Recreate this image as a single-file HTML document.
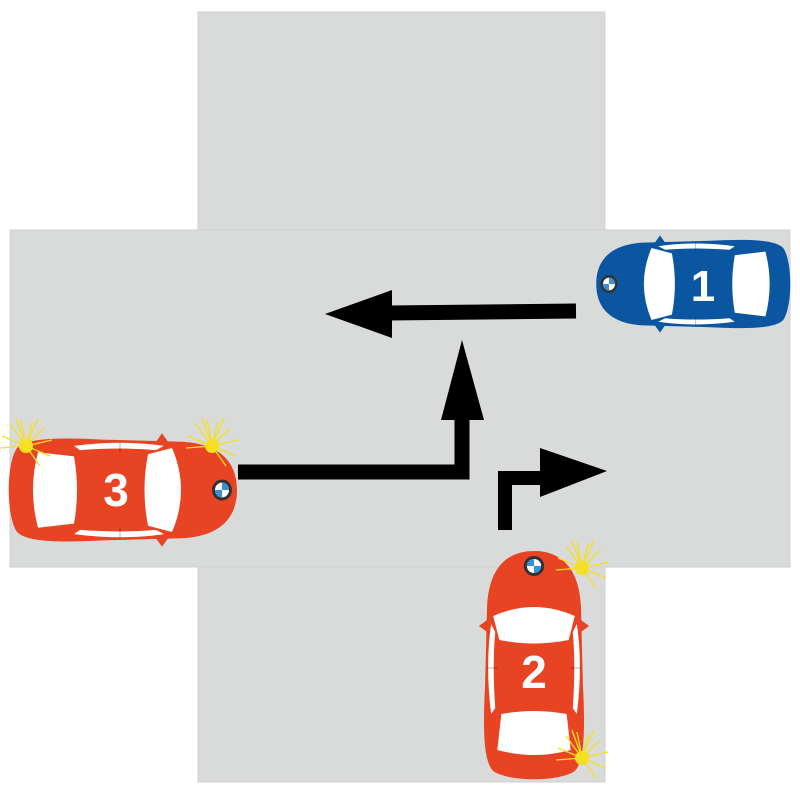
<!DOCTYPE html>
<html><head><meta charset="utf-8"><style>html,body{margin:0;padding:0;background:#fff}svg{display:block}</style></head>
<body>
<svg width="800" height="800" viewBox="0 0 800 800" xmlns="http://www.w3.org/2000/svg">
<defs>
<g id="car">
  <path d="M-105,-40 C-95,-50 -60,-50 -20,-48 L60,-46 C100,-44 115,-25 115,0 C115,25 100,44 60,46 L-20,48 C-60,50 -95,50 -105,40 C-116,25 -116,-25 -105,-40 Z"/>
  <path d="M34,-46 L40,-54 L46,-46Z M34,46 L40,54 L46,46Z"/>
  <path fill="#fff" d="M26,-34 L50,-40 Q68,0 50,40 L26,34 Q19,0 26,-34Z"/>
  <path fill="#fff" d="M-84,-36 L-48,-32 Q-42,0 -48,32 L-84,36 Q-94,0 -84,-36Z"/>
  <path fill="#fff" d="M-48,-42 Q0,-48 42,-42 L34,-38 Q0,-41 -42,-38Z"/>
  <path fill="#fff" d="M-48,42 Q0,48 42,42 L34,38 Q0,41 -42,38Z"/>
  <path d="M-2,-46 L-2,-36 M-2,36 L-2,46" stroke="#000" stroke-opacity="0.3" stroke-width="1"/>
  <circle cx="100" cy="0" r="10" fill="#333"/>
  <circle cx="100" cy="0" r="7" fill="#fff"/>
  <path d="M100,-7 A7,7 0 0 1 107,0 L100,0Z M100,7 A7,7 0 0 1 93,0 L100,0Z" fill="#3a8fd8"/>
</g>
<g id="light" stroke="#f4e020" stroke-width="1.3" fill="none">
  <circle r="7" fill="#f4e020" stroke="none"/>
  <path d="M0,0 L-16,-22 M0,0 L-5,-26 M0,0 L6,-24 M0,0 L18,-18 M0,0 L26,-6 M0,0 L24,10 M0,0 L-24,-10 M0,0 L-26,2 M0,0 L14,20 M0,0 L-10,-28 M0,0 L12,-28"/>
</g>
</defs>
<rect x="198" y="12" width="407" height="770" fill="#d9dada" stroke="#cfd0d0"/>
<rect x="10" y="230" width="780" height="337" fill="#d9dada" stroke="#cfd0d0"/>
<rect x="199" y="231" width="405" height="335" fill="#d9dada"/>

<path d="M576,311 L388,313" stroke="#000" stroke-width="15" fill="none"/>
<path d="M325,314 L392,290 L392,338Z" fill="#000"/>
<path d="M238,472 L462,472 L462,410" stroke="#000" stroke-width="15" fill="none" stroke-linejoin="miter"/>
<path d="M462,340 L441,420 L484,420Z" fill="#000"/>
<path d="M505,530 L505,478 L545,478" stroke="#000" stroke-width="14" fill="none"/>
<path d="M607,471 L540,448 L540,497Z" fill="#000"/>

<use href="#car" transform="translate(122,490) scale(1,1.05)" fill="#e84424"/>
<text x="116" y="506" font-family="Liberation Sans, sans-serif" font-weight="bold" font-size="46" fill="#fff" text-anchor="middle">3</text>
<use href="#light" transform="translate(26,446)"/>
<use href="#light" transform="translate(212,446)"/>

<use href="#car" transform="translate(694,284) rotate(180) scale(0.85,0.9)" fill="#0b56a0"/>
<text x="703" y="301" font-family="Liberation Sans, sans-serif" font-weight="bold" font-size="44" fill="#fff" text-anchor="middle">1</text>

<use href="#car" transform="translate(534,666) rotate(-90) scale(1,1.02)" fill="#e84424"/>
<text x="534" y="688" font-family="Liberation Sans, sans-serif" font-weight="bold" font-size="46" fill="#fff" text-anchor="middle">2</text>
<use href="#light" transform="translate(582,568)"/>
<use href="#light" transform="translate(582,758)"/>
</svg>
</body></html>
